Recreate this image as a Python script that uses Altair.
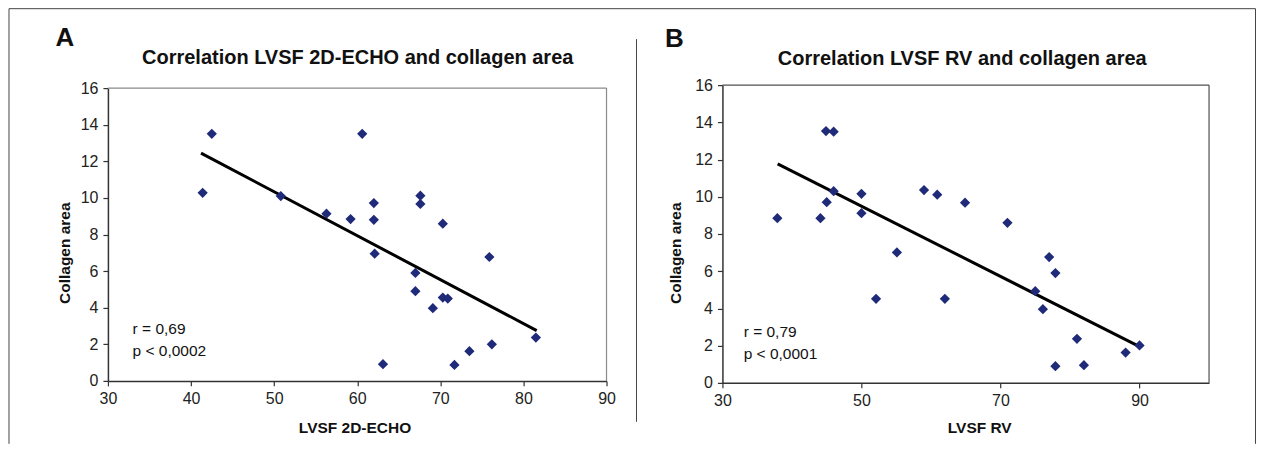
import altair as alt
import pandas as pd

# ---- Panel A data ----
a_x = [41.4, 42.5, 50.8, 56.3, 59.2, 60.6, 62.0, 62.0, 62.1, 63.1, 67.0, 67.0,
       67.6, 67.6, 69.1, 70.3, 70.3, 70.9, 71.7, 73.5, 75.9, 76.2, 81.5]
a_y = [10.28, 13.5, 10.1, 9.14, 8.84, 13.5, 9.72, 8.8, 6.95, 0.91, 5.9, 4.9,
       10.12, 9.67, 3.97, 8.59, 4.55, 4.5, 0.87, 1.62, 6.77, 2.0, 2.37]
a_line_x = [41.2, 81.6]
a_line_y = [12.45, 2.75]

# ---- Panel B data ----
b_x = [37.9, 44.1, 44.9, 46.0, 45.0, 46.0, 50.0, 50.0, 52.1, 55.1, 59.0, 60.9,
       62.0, 64.9, 71.0, 75.0, 76.1, 77.0, 77.9, 77.9, 81.0, 82.0, 88.0, 90.0]
b_y = [8.85, 8.85, 13.53, 13.5, 9.71, 10.3, 10.16, 9.12, 4.52, 7.01, 10.36, 10.11,
       4.52, 9.68, 8.6, 4.93, 3.96, 6.76, 5.9, 0.9, 2.37, 0.95, 1.63, 2.01]
b_line_x = [37.94, 90.0]
b_line_y = [11.77, 1.95]

a_xticks = [30, 40, 50, 60, 70, 80, 90]
b_xticks = [30, 50, 70, 90]
yticks = [0, 2, 4, 6, 8, 10, 12, 14, 16]

FONT = "Liberation Sans, Arial, sans-serif"
NAVY = "#1f2a78"

ONE = pd.DataFrame({"d": [0]})


def text_layer(txt, x, y, size, weight="normal", align="left"):
    return alt.Chart(ONE).mark_text(
        fontSize=size, fontWeight=weight, align=align,
        baseline="alphabetic", font=FONT, color="#111"
    ).encode(x=alt.value(x), y=alt.value(y), text=alt.value(txt))


def rule_px(**kw):
    enc = {k: alt.value(v) for k, v in kw.items()}
    return alt.Chart(ONE).mark_rule(color="#444", strokeWidth=1).encode(**enc)


def panel(xs, ys, lx, ly, xdom, xticks, xtitle, xtitle_x, xtitle_y, ytitle_x,
          yrange, border_color):
    df = pd.DataFrame({"x": xs, "y": ys})
    dl = pd.DataFrame({"x": lx, "y": ly})
    dborder = pd.DataFrame({"x": [xdom[0], xdom[1]], "x2": [xdom[1], xdom[1]],
                            "y": [16, 0], "y2": [16, 16]})
    xscale = alt.Scale(domain=xdom, nice=False, zero=False)
    yscale = alt.Scale(domain=[0, 16], nice=False, zero=False, range=yrange)
    common_axis = dict(
        labelFont=FONT, labelFontSize=16, labelColor="#222",
        domainColor="#333", domainWidth=1.5, tickColor="#333", tickWidth=1.2,
        tickSize=5, labelPadding=5, grid=False, labelFlush=False, labelOverlap=False,
        titleFont=FONT, titleFontSize=15.5, titleFontWeight="bold", titleColor="#111",
        titleBaseline="alphabetic", titleAlign="center",
    )
    xaxis = alt.Axis(values=xticks, format="d", title=xtitle,
                     titleX=xtitle_x, titleY=xtitle_y, **common_axis)
    yaxis = alt.Axis(values=yticks, format="d", title="Collagen area",
                     titleX=ytitle_x, titleY=167.7, titleAngle=270, **common_axis)
    X = lambda f="x:Q": alt.X(f, scale=xscale, axis=xaxis, title=xtitle)
    Y = lambda f="y:Q": alt.Y(f, scale=yscale, axis=yaxis, title="Collagen area")
    border = alt.Chart(dborder).mark_rule(color=border_color, strokeWidth=1.2).encode(
        x=X(), x2="x2:Q", y=Y(), y2="y2:Q",
    )
    line = alt.Chart(dl).mark_line(color="black", strokeWidth=3).encode(x=X(), y=Y())
    pts = alt.Chart(df).mark_point(shape="diamond", filled=True, size=105,
                                    color=NAVY, opacity=1).encode(x=X(), y=Y())
    return [border, line, pts]


left_layers = panel(a_x, a_y, a_line_x, a_line_y, [30, 90], a_xticks, "LVSF 2D-ECHO",
                    246.8, 51.5, -38, [296, 3], "#8a8a8a")
left = alt.layer(
    *left_layers,
    text_layer("A", -43, -39, 26, "bold", "center"),
    text_layer("Correlation LVSF 2D-ECHO and collagen area", 250, -21.5, 20, "bold", "center"),
    text_layer("r = 0,69", 24.7, 249, 15.5),
    text_layer("p < 0,0002", 24.7, 271, 15.5),
    rule_px(x=-99, x2=1148.5, y=-76.5),
    rule_px(x=-99, y=-76.5, y2=359),
    rule_px(x=529, y=-46, y2=337),
).properties(width=499, height=296)

right_layers = panel(b_x, b_y, b_line_x, b_line_y, [30, 100], b_xticks, "LVSF RV",
                     257, 49.5, -42.4, [298, 0], "#505050")
right = alt.layer(
    *right_layers,
    text_layer("B", -48, -38, 26, "bold", "center"),
    text_layer("Correlation LVSF RV and collagen area", 240, -20, 20, "bold", "center"),
    text_layer("r = 0,79", 21.3, 252, 15.5),
    text_layer("p < 0,0001", 21.3, 274.5, 15.5),
    rule_px(x=533.5, y=-76.5, y2=359),
).properties(width=487, height=298)

chart = alt.hconcat(left, right, spacing=116, bounds="flush").properties(
    padding=0, background="white"
).configure_view(stroke=None)

chart.save("out.html", embed_options={"renderer": "svg", "actions": False})
